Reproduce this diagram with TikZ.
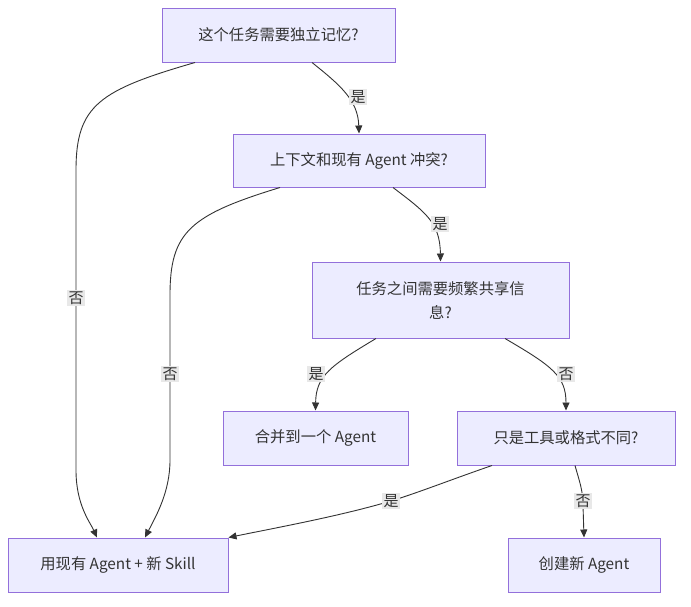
\documentclass[tikz,border=0pt]{standalone}
\usepackage{fontspec}
\setmainfont{Noto Sans CJK SC}
\usetikzlibrary{arrows.meta}
\definecolor{boxfill}{HTML}{ECECFF}
\definecolor{boxline}{HTML}{9370DB}
\definecolor{ink}{HTML}{333333}
\definecolor{lblbg}{HTML}{E8E8E8}
\tikzset{
  box/.style={draw=boxline, fill=boxfill, line width=1pt, text=ink, font=\fontsize{15.3}{24}\selectfont, inner sep=0pt, align=center},
  edge/.style={draw=ink, line width=0.9pt, -{Triangle[length=8pt,width=7pt]}},
  lbl/.style={fill=lblbg, text=ink, font=\fontsize{15}{17}\selectfont, inner sep=1.5pt}
}
\begin{document}
\begin{tikzpicture}[x=1pt,y=-1pt]
\useasboundingbox (0,0) rectangle (691,606);
\fill[white] (0,0) rectangle (691,606);
\node[box, minimum width=233pt, minimum height=54pt] (n1) at (278.5,35) {这个任务需要独立记忆?};
\node[box, minimum width=252pt, minimum height=53pt] (n2) at (359,160.5) {上下文和现有 Agent 冲突?};
\node[box, minimum width=257pt, minimum height=76pt] (n3) at (440.5,300) {任务之间需要频繁共享信\\息?};
\node[box, minimum width=185pt, minimum height=54pt] (n4) at (315.5,438) {合并到一个 Agent};
\node[box, minimum width=218pt, minimum height=54pt] (n5) at (566,438) {只是工具或格式不同?};
\node[box, minimum width=220pt, minimum height=54pt] (n6) at (118,565) {用现有 Agent + 新 Skill};
\node[box, minimum width=152pt, minimum height=54pt] (n7) at (584,565) {创建新 Agent};

% n1 -> n2 yes
\draw[edge] ([xshift=33.5pt]n1.south) .. controls (340,85) and (358,100) .. (n2.north);
\node[lbl] (l1) at (358,97) {是};
% n1 -> n6 no
\draw[edge] ([xshift=-83.5pt]n1.south) .. controls (100,90) and (76,105) .. (76,170) -- (76,470) .. controls (76,505) and (90,522) .. ([xshift=-21pt]n6.north);
\node[lbl] (l2) at (76,298) {否};
% n2 -> n3 yes
\draw[edge] ([xshift=34pt]n2.south) .. controls (425,212) and (440,222) .. (n3.north);
\node[lbl] (l3) at (440,224) {是};
% n2 -> n6 no
\draw[edge] ([xshift=-79pt]n2.south) .. controls (190,215) and (170,232) .. (170,295) -- (170,460) .. controls (170,492) and (156,516) .. ([xshift=27pt]n6.north);
\node[lbl] (l4) at (170,374) {否};
% n3 -> n4 yes
\draw[edge] ([xshift=-64.5pt]n3.south) .. controls (330,366) and (316,376) .. (n4.north);
\node[lbl] (l5) at (316,374) {是};
% n3 -> n5 no
\draw[edge] ([xshift=64.5pt]n3.south) .. controls (552,366) and (566,376) .. (n5.north);
\node[lbl] (l6) at (566,374) {否};
% n5 -> n6 yes
\draw[edge] ([xshift=-74pt]n5.south) .. controls (450,480) and (420,492) .. (391,501) .. controls (340,516) and (280,527) .. (n6.north east);
\node[lbl] (l7) at (391,501) {是};
% n5 -> n7 no
\draw[edge] ([xshift=9pt]n5.south) .. controls (579,480) and (583,490) .. (583,505) -- (n7.north);
\node[lbl] (l8) at (583,501) {否};
\end{tikzpicture}
\end{document}
